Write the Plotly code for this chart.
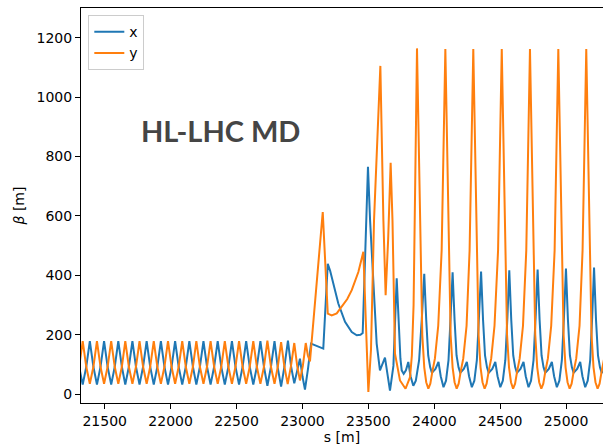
import plotly.graph_objects as go

# ---- data (s in m, beta in m) ----
s_x = [21279, 21306, 21333, 21360, 21387, 21414, 21441, 21468, 21495, 21522, 21549, 21576,
       21603, 21630, 21656, 21683, 21710, 21737, 21764, 21791, 21818, 21845, 21872, 21899,
       21926, 21953, 21980, 22007, 22034, 22061, 22088, 22115, 22142, 22169, 22195, 22222,
       22249, 22276, 22303, 22330, 22357, 22384, 22411, 22438, 22465, 22492, 22519, 22546,
       22573, 22600, 22627, 22654, 22681, 22708, 22734, 22761, 22788, 22813, 22838, 22863,
       22890, 22914, 22938, 22960, 22981, 23000, 23019, 23042, 23065, 23158, 23192, 23210,
       23235, 23272, 23323, 23374, 23412, 23440, 23457, 23497, 23513, 23538, 23563, 23588,
       23626, 23664, 23690, 23715,
       23730, 23743, 23753, 23768, 23785, 23803, 23820, 23841, 23860, 23885, 23905, 23924,
       23939, 23954, 23969, 23982, 24009, 24032, 24049, 24070, 24089, 24108, 24124, 24139,
       24154, 24169, 24184, 24197, 24224, 24247, 24264, 24285, 24304, 24323, 24339, 24355,
       24370, 24385, 24400, 24413, 24440, 24463, 24480, 24501, 24520, 24539, 24555, 24569,
       24584, 24599, 24614, 24627, 24654, 24677, 24694, 24715, 24734, 24753, 24769, 24784,
       24799, 24814, 24829, 24842, 24869, 24892, 24909, 24930, 24949, 24968, 24984, 24999,
       25014, 25029, 25044, 25057, 25084, 25107, 25124, 25145, 25164, 25183, 25198, 25212,
       25227, 25242, 25257, 25270, 25297]
beta_x = [178, 92, 32, 92, 178, 92, 32, 92, 178, 92, 32, 92,
          178, 92, 32, 92, 178, 92, 32, 92, 178, 92, 32, 92,
          178, 92, 32, 92, 178, 92, 32, 92, 178, 92, 32, 92,
          178, 92, 32, 92, 178, 92, 32, 92, 178, 92, 32, 92,
          178, 92, 32, 92, 178, 92, 28, 92, 178, 88, 25, 92,
          180, 92, 36, 80, 119, 60, 15, 85, 170, 153, 439, 415,
          370, 305, 243, 209, 198, 200, 206, 765, 585, 361, 170, 80,
          123, 12, 95, 390,
          240, 120, 80, 68, 80, 108, 60, 28, 45, 114, 250, 405,
          250, 130, 90, 72, 85, 108, 60, 23, 45, 114, 260, 410,
          250, 130, 90, 72, 85, 108, 60, 23, 45, 114, 260, 413,
          250, 130, 90, 72, 85, 108, 60, 23, 45, 114, 260, 417,
          250, 130, 90, 72, 85, 108, 60, 23, 45, 114, 260, 419,
          250, 130, 90, 72, 85, 108, 60, 23, 45, 114, 260, 423,
          250, 130, 90, 72, 85, 108, 60, 23, 45, 114, 260, 426,
          250, 130, 90, 72, 85]

s_y = [21279, 21306, 21333, 21360, 21387, 21414, 21441, 21468, 21495, 21522, 21549, 21576,
       21603, 21630, 21656, 21683, 21710, 21737, 21764, 21791, 21818, 21845, 21872, 21899,
       21926, 21953, 21980, 22007, 22034, 22061, 22088, 22115, 22142, 22169, 22195, 22222,
       22249, 22276, 22303, 22330, 22357, 22384, 22411, 22438, 22465, 22492, 22519, 22546,
       22573, 22600, 22627, 22654, 22681, 22708, 22734, 22761, 22788, 22813, 22838, 22863,
       22888, 22913, 22938, 22960, 22981, 23003, 23025, 23041, 23057, 23154, 23192, 23222,
       23260, 23298, 23340, 23374, 23424, 23462, 23500, 23520, 23543, 23591, 23614, 23631,
       23650, 23669, 23683, 23702, 23740, 23782, 23816, 23830, 23843, 23869,
       23894, 23909, 23924, 23939, 23955, 23970, 23985, 24005, 24030, 24056, 24084,
       24109, 24124, 24139, 24154, 24170, 24185, 24200, 24220, 24245, 24268, 24296,
       24321, 24336, 24351, 24366, 24382, 24397, 24412, 24432, 24457, 24484, 24512,
       24537, 24552, 24567, 24582, 24598, 24613, 24628, 24648, 24673, 24698, 24726,
       24751, 24766, 24781, 24796, 24812, 24827, 24842, 24862, 24887, 24913, 24941,
       24966, 24981, 24996, 25011, 25027, 25042, 25057, 25077, 25102, 25125, 25153,
       25178, 25193, 25208, 25223, 25239, 25254, 25269, 25289]
beta_y = [35, 92, 178, 92, 35, 92, 178, 92, 35, 92, 178, 92,
          35, 92, 178, 92, 35, 92, 178, 92, 35, 92, 178, 92,
          35, 92, 178, 92, 35, 92, 178, 92, 35, 92, 178, 92,
          35, 92, 178, 92, 35, 92, 178, 92, 35, 92, 178, 92,
          35, 92, 178, 92, 35, 92, 180, 92, 35, 92, 175, 92,
          34, 95, 172, 95, 46, 95, 172, 130, 110, 613, 271, 265,
          272, 293, 320, 350, 411, 479, 7, 150, 585, 1105, 585, 333,
          520, 779, 585, 136, 46, 18, 57, 130, 300, 1164,
          484, 200, 90, 40, 18, 35, 75, 120, 230, 484, 1162,
          484, 200, 90, 40, 18, 35, 75, 120, 230, 484, 1162,
          484, 200, 90, 40, 18, 35, 75, 120, 230, 484, 1162,
          484, 200, 90, 40, 18, 35, 75, 120, 230, 484, 1162,
          484, 200, 90, 40, 18, 35, 75, 120, 230, 484, 1162,
          484, 200, 90, 40, 18, 35, 75, 120, 230, 484, 1162,
          484, 200, 90, 40, 18, 35, 75, 120]

x_ticks = [21500, 22000, 22500, 23000, 23500, 24000, 24500, 25000]
y_ticks = [0, 200, 400, 600, 800, 1000, 1200]

FONT = "DejaVu Sans"

fig = go.Figure()
fig.add_trace(go.Scatter(x=s_x, y=beta_x, mode="lines", name="x",
                         line=dict(color="#1f77b4", width=2)))
fig.add_trace(go.Scatter(x=s_y, y=beta_y, mode="lines", name="y",
                         line=dict(color="#ff7f0e", width=2)))

fig.add_annotation(text="<b>HL-LHC MD</b>", xref="paper", yref="paper",
                   x=0.2663, y=0.69, xanchor="center", yanchor="middle",
                   showarrow=False, font=dict(family="Lato", size=29, color="#454545"))

axis_common = dict(showgrid=False, zeroline=False, showline=True, linecolor="black",
                   linewidth=1, ticks="outside", ticklen=5, tickwidth=1, tickcolor="black",
                   tickformat="d",
                   tickfont=dict(family=FONT, size=14, color="black"))

fig.update_xaxes(range=[21320, 25280], tickvals=x_ticks, mirror=True,
                 title=dict(text="s [m]", font=dict(family=FONT, size=14, color="black"), standoff=2),
                 **axis_common)
fig.update_yaxes(range=[-30, 1300], tickvals=y_ticks, mirror=False,
                 title=dict(text="<i>β</i> [m]", font=dict(family=FONT, size=14, color="black"), standoff=8),
                 **axis_common)

fig.update_layout(width=603, height=446, margin=dict(l=81, r=0, t=8, b=43),
                  plot_bgcolor="white", paper_bgcolor="white",
                  legend=dict(x=0.014, y=0.982, xanchor="left", yanchor="top",
                              bgcolor="rgba(255,255,255,0.8)", bordercolor="#cccccc", borderwidth=1,
                              font=dict(family=FONT, size=14, color="black"),
                              tracegroupgap=0, itemwidth=30))

fig.write_html("out.html")
